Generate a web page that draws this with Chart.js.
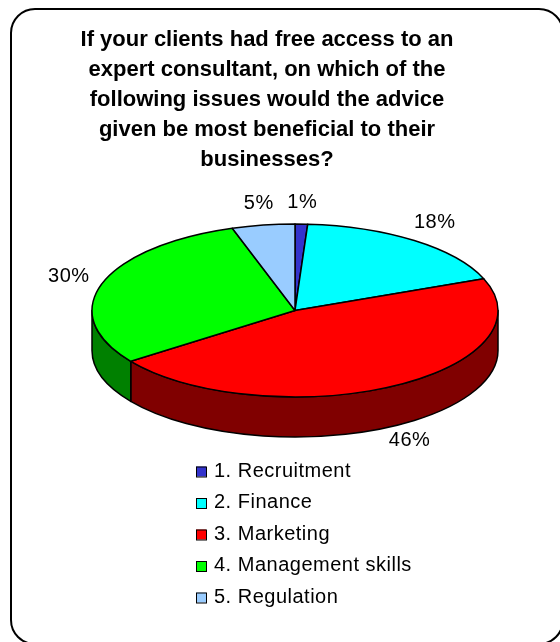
<!DOCTYPE html>
<html>
<head>
<meta charset="utf-8">
<title>Expert consultant survey</title>
<script src="https://cdn.jsdelivr.net/npm/chart.js@4.4.1/dist/chart.umd.min.js"></script>
<style>
  html, body { margin: 0; padding: 0; background: #fff; overflow: hidden; }
  canvas { display: block; }
</style>
</head>
<body>
<canvas id="chart" width="560" height="642"></canvas>
<script>
// Survey answers (percent of respondents)
const categories = ['1. Recruitment', '2. Finance', '3. Marketing', '4. Management skills', '5. Regulation'];
const shares = [1, 18, 46, 30, 5];
const sliceColors = ['#3333CC', '#00FFFF', '#FF0000', '#00FF00', '#99CCFF'];
const titleLines = [
    'If your clients had free access to an',
    'expert consultant, on which of the',
    'following issues would the advice',
    'given be most beneficial to their',
    'businesses?'
];

const FONT = '"Liberation Sans", Arial, sans-serif';
Chart.defaults.font.family = FONT;
Chart.defaults.color = '#000';

// half-intensity colour for the pie walls
function darken(hex) {
    const n = parseInt(hex.slice(1), 16);
    const r = Math.round(((n >> 16) & 255) / 2);
    const g = Math.round(((n >> 8) & 255) / 2);
    const b = Math.round((n & 255) / 2);
    return `rgb(${r},${g},${b})`;
}

// ellipse geometry of the tilted pie, taken from the chart area
function pieGeometry(chart, opts) {
    const area = chart.chartArea;
    const rx = opts.radiusX;
    const ry = rx * opts.tilt;
    return {
        cx: opts.centerX,
        cy: area.top + ry,
        rx: rx,
        ry: ry,
        depth: area.bottom - area.top - 2 * ry
    };
}

// Frame round the whole chart
const frame = {
    id: 'frame',
    beforeDraw(chart) {
        const ctx = chart.ctx;
        ctx.save();
        ctx.fillStyle = '#fff';
        ctx.fillRect(0, 0, chart.width, chart.height);
        ctx.beginPath();
        ctx.roundRect(11, 9, 552, 635, 24);
        ctx.lineWidth = 2;
        ctx.strokeStyle = '#000';
        ctx.stroke();
        ctx.restore();
    }
};

// 3D pie: walls + top faces drawn from the arc elements Chart.js computed
const pie3d = {
    id: 'pie3d',
    beforeDatasetsDraw(chart, args, opts) {
        const ctx = chart.ctx;
        const arcs = chart.getDatasetMeta(0).data;
        const colors = chart.data.datasets[0].backgroundColor;
        const { cx, cy, rx, ry, depth } = pieGeometry(chart, opts);

        ctx.save();
        ctx.lineWidth = 1.5;
        ctx.lineJoin = 'round';
        ctx.strokeStyle = '#000';

        // front walls (only the lower half of the ellipse is visible)
        arcs.forEach((arc, i) => {
            const a0 = Math.max(arc.startAngle, 0);
            const a1 = Math.min(arc.endAngle, Math.PI);
            if (a1 <= a0) return;
            ctx.beginPath();
            ctx.ellipse(cx, cy, rx, ry, 0, a0, a1);
            ctx.lineTo(cx + rx * Math.cos(a1), cy + depth + ry * Math.sin(a1));
            ctx.ellipse(cx, cy + depth, rx, ry, 0, a1, a0, true);
            ctx.closePath();
            ctx.fillStyle = darken(colors[i]);
            ctx.fill();
            ctx.stroke();
        });

        // top faces
        arcs.forEach((arc, i) => {
            ctx.beginPath();
            ctx.moveTo(cx, cy);
            ctx.ellipse(cx, cy, rx, ry, 0, arc.startAngle, arc.endAngle);
            ctx.closePath();
            ctx.fillStyle = colors[i];
            ctx.fill();
            ctx.stroke();
        });
        ctx.restore();
        return false;
    },
    afterDraw(chart, args, opts) {
        const ctx = chart.ctx;
        const arcs = chart.getDatasetMeta(0).data;
        const values = chart.data.datasets[0].data;
        const colors = chart.data.datasets[0].backgroundColor;
        const { cx, cy, rx, ry, depth } = pieGeometry(chart, opts);

        ctx.save();
        ctx.font = `20px ${FONT}`;
        ctx.letterSpacing = '0.5px';
        ctx.fillStyle = '#000';

        // percentage labels outside each slice
        ctx.textAlign = 'center';
        ctx.textBaseline = 'middle';
        arcs.forEach((arc, i) => {
            const text = values[i] + '%';
            const w = ctx.measureText(text).width;
            const mid = (arc.startAngle + arc.endAngle) / 2;
            const c = Math.cos(mid), s = Math.sin(mid);
            const x = cx + c * (rx + opts.labelGapX + w / 2);
            const y = cy + s * (ry + opts.labelGapY) + depth * Math.max(s, 0);
            ctx.fillText(text, x, y);
        });

        // legend under the pie
        ctx.textAlign = 'left';
        ctx.textBaseline = 'alphabetic';
        ctx.lineWidth = 1;
        ctx.strokeStyle = '#000';
        const top = chart.chartArea.bottom + opts.legendOffset;
        chart.data.labels.forEach((label, i) => {
            const y = top + i * opts.legendRow;
            ctx.fillStyle = colors[i];
            ctx.fillRect(opts.legendX, y - 5, 10, 10);
            ctx.strokeRect(opts.legendX + 0.5, y - 4.5, 10, 10);
            ctx.fillStyle = '#000';
            ctx.fillText(label, opts.legendX + 18, y + 5);
        });
        ctx.restore();
    }
};

new Chart(document.getElementById('chart'), {
    type: 'pie',
    data: {
        labels: categories,
        datasets: [{
            data: shares,
            backgroundColor: sliceColors,
            borderColor: '#000',
            borderWidth: 1
        }]
    },
    options: {
        responsive: false,
        animation: false,
        devicePixelRatio: 1,
        layout: { padding: { top: 0, left: 0, right: 26, bottom: 205 } },
        plugins: {
            legend: { display: false },
            tooltip: { enabled: false },
            title: {
                display: true,
                text: titleLines,
                color: '#000',
                font: { size: 22, weight: 'bold', lineHeight: 30 / 22 },
                padding: { top: 25, bottom: 49 }
            },
            pie3d: {
                centerX: 295,
                radiusX: 203,
                tilt: 0.426,
                labelGapX: 14,
                labelGapY: 22,
                legendX: 196,
                legendOffset: 34.5,
                legendRow: 31.5
            }
        }
    },
    plugins: [frame, pie3d]
});
</script>
</body>
</html>
